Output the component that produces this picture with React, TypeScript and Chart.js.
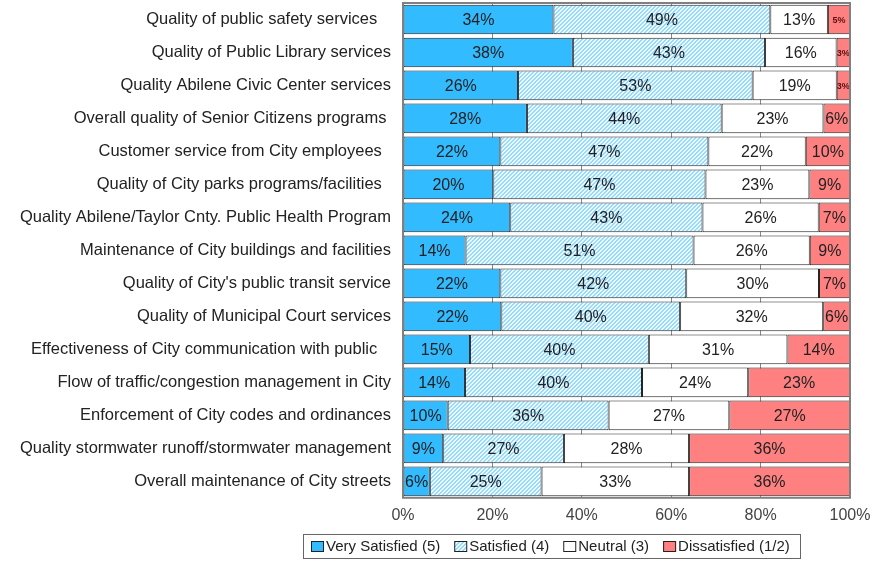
import React, { useEffect, useRef } from "react";
import { Chart, registerables } from "chart.js";

Chart.register(...registerables);

const categories = [
  "Quality of public safety services   ",
  "Quality of Public Library services",
  "Quality Abilene Civic Center services",
  "Overall quality of Senior Citizens programs ",
  "Customer service from City employees  ",
  "Quality of City parks programs/facilities  ",
  "Quality Abilene/Taylor Cnty. Public Health Program",
  "Maintenance of City buildings and facilities",
  "Quality of City's public transit service",
  "Quality of Municipal Court services",
  "Effectiveness of City communication with public   ",
  "Flow of traffic/congestion management in City",
  "Enforcement of City codes and ordinances",
  "Quality stormwater runoff/stormwater management",
  "Overall maintenance of City streets",
];

const verySatisfied = [34, 38, 26, 28, 22, 20, 24, 14, 22, 22, 15, 14, 10, 9, 6];
const satisfied = [49, 43, 53, 44, 47, 47, 43, 51, 42, 40, 40, 40, 36, 27, 25];
const neutral = [13, 16, 19, 23, 22, 23, 26, 26, 30, 32, 31, 24, 27, 28, 33];
const dissatisfied = [5, 3, 3, 6, 10, 9, 7, 9, 7, 6, 14, 23, 27, 36, 36];

const seriesNames = ["Very Satisfied (5)", "Satisfied (4)", "Neutral (3)", "Dissatisfied (1/2)"];
const xTicks = [0, 20, 40, 60, 80, 100];

const FONT = "'Liberation Sans', Arial, sans-serif";

function makeHatch(): CanvasPattern | string {
  const c = document.createElement("canvas");
  c.width = 4;
  c.height = 4;
  const ctx = c.getContext("2d");
  if (!ctx) return "#9fdcff";
  const img = ctx.createImageData(4, 4);
  for (let y = 0; y < 4; y++) {
    for (let x = 0; x < 4; x++) {
      const i = (y * 4 + x) * 4;
      const on = (x + y) % 4 === 0 || (x + y) % 4 === 1;
      img.data[i] = on ? 150 : 238;
      img.data[i + 1] = on ? 218 : 249;
      img.data[i + 2] = 255;
      img.data[i + 3] = 255;
    }
  }
  ctx.putImageData(img, 0, 0);
  return ctx.createPattern(c, "repeat") as CanvasPattern;
}

export default function App() {
  const ref = useRef<HTMLCanvasElement | null>(null);

  useEffect(() => {
    document.body.style.margin = "0";
    const canvas = ref.current;
    if (!canvas) return;
    const raw = [verySatisfied, satisfied, neutral, dissatisfied];
    const totals = categories.map((_, i) => raw.reduce((s, a) => s + a[i], 0));
    const norm = raw.map((arr) => arr.map((v, i) => (v / totals[i]) * 100));
    const hatch = makeHatch();
    const fills: any[] = ["#33BBFF", hatch, "#FFFFFF", "#FF8080"];

    const labelsPlugin = {
      id: "segLabels",
      afterDatasetsDraw(chart: any) {
        const ctx = chart.ctx;
        ctx.save();
        ctx.textAlign = "center";
        ctx.textBaseline = "middle";
        chart.data.datasets.forEach((ds: any, di: number) => {
          const meta = chart.getDatasetMeta(di);
          meta.data.forEach((bar: any, i: number) => {
            const v = raw[di][i];
            const cx = (bar.x + bar.base) / 2;
            if (v <= 5) {
              ctx.font = "bold 9px " + FONT;
              ctx.fillStyle = "#5a1010";
            } else {
              ctx.font = "16px " + FONT;
              ctx.fillStyle = "#222";
            }
            ctx.fillText(v + "%", cx, bar.y + 1);
          });
        });
        ctx.restore();
      },
    };

    const frameLegendPlugin = {
      id: "frameLegend",
      afterDraw(chart: any) {
        const ctx = chart.ctx;
        const a = chart.chartArea;
        ctx.save();
        ctx.strokeStyle = "#808080";
        ctx.lineWidth = 2;
        ctx.strokeRect(a.left, a.top, a.right - a.left, a.bottom - a.top);

        // legend
        ctx.font = "15px " + FONT;
        ctx.textBaseline = "middle";
        ctx.textAlign = "left";
        const boxW = 13, boxH = 11, gapText = 2, gapItem = 14;
        const widths = seriesNames.map((n) => ctx.measureText(n).width);
        const total = widths.reduce((s, w) => s + boxW + gapText + w, 0) + gapItem * (seriesNames.length - 1);
        const padL = 8, padR = 10;
        const left = 303;
        const top = 534, height = 24;
        const cy = top + height / 2 + 0.5;
        ctx.fillStyle = "#fff";
        ctx.fillRect(left, top, total + padL + padR, height);
        ctx.strokeStyle = "#666";
        ctx.lineWidth = 1;
        ctx.strokeRect(left + 0.5, top + 0.5, Math.round(total + padL + padR), height);
        let x = left + padL;
        seriesNames.forEach((n, k) => {
          const by = Math.round(cy - boxH / 2);
          ctx.fillStyle = fills[k];
          ctx.fillRect(x, by, boxW, boxH);
          ctx.strokeStyle = "#222";
          ctx.strokeRect(x + 0.5, by + 0.5, boxW - 1, boxH - 1);
          ctx.fillStyle = "#222";
          ctx.fillText(n, x + boxW + gapText, cy);
          x += boxW + gapText + widths[k] + gapItem;
        });
        ctx.restore();
      },
    };

    const chart = new Chart(canvas, {
      type: "bar",
      data: {
        labels: categories,
        datasets: norm.map((d, k) => ({
          label: seriesNames[k],
          data: d,
          backgroundColor: fills[k],
          borderColor: "#222",
          borderWidth: 1,
          borderSkipped: false,
          barPercentage: 0.9,
          categoryPercentage: 1,
        })),
      },
      options: {
        indexAxis: "y",
        animation: false,
        responsive: false,
        maintainAspectRatio: false,
        layout: { padding: { top: 3, right: 24, left: 0, bottom: 29 } },
        scales: {
          x: {
            stacked: true,
            min: 0,
            max: 100,
            afterBuildTicks(scale: any) {
              scale.ticks = xTicks.map((v) => ({ value: v }));
            },
            afterFit(scale: any) {
              scale.paddingLeft = 0;
              scale.paddingRight = 0;
            },
            ticks: {
              callback: (v: any) => v + "%",
              color: "#444",
              font: { family: FONT, size: 16 },
              padding: 8,
            },
            grid: { color: "#888", drawTicks: false },
            border: { display: false },
          },
          y: {
            stacked: true,
            afterFit(scale: any) {
              scale.width = 403;
              scale.paddingTop = 0;
              scale.paddingBottom = 0;
            },
            ticks: {
              color: "#222",
              font: { family: FONT, size: 16.5 },
              padding: 4,
              autoSkip: false,
            },
            grid: { display: false },
            border: { display: false },
          },
        },
        plugins: {
          legend: { display: false },
          tooltip: { enabled: false },
        },
      },
      plugins: [labelsPlugin, frameLegendPlugin],
    });
    return () => chart.destroy();
  }, []);

  return <canvas ref={ref} width={874} height={562} style={{ display: "block" }} />;
}
